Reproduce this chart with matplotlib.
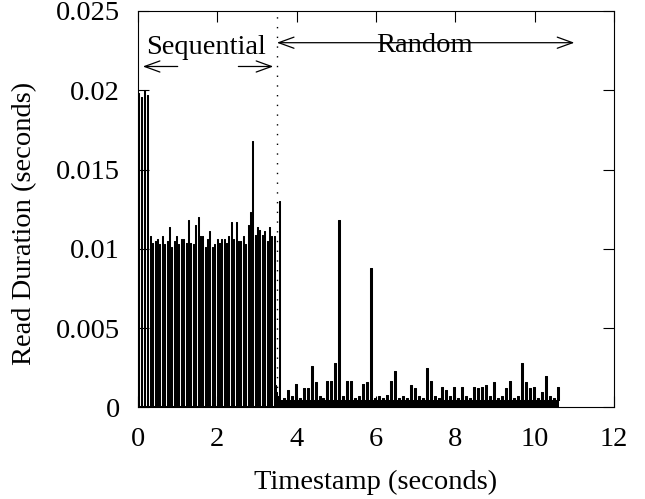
import matplotlib.pyplot as plt

plt.rcParams['font.family'] = ['Liberation Serif', 'DejaVu Serif']

# read durations in milliseconds, timestamps in seconds
# first burst + sequential phase: long reads and the short reads between them
seq_peak_t = [0.01, 0.08, 0.15, 0.22,
              0.30, 0.36, 0.42, 0.48, 0.54, 0.60, 0.66, 0.72, 0.78, 0.84,
              0.90, 0.96, 1.02, 1.08, 1.14, 1.20, 1.26, 1.32, 1.38, 1.44,
              1.50, 1.56, 1.62, 1.68, 1.74, 1.80, 1.86, 1.92, 1.98, 2.04,
              2.10, 2.16, 2.22, 2.28, 2.34, 2.40, 2.46, 2.52, 2.58, 2.64,
              2.70, 2.76, 2.82, 2.88, 2.94, 3.00, 3.06, 3.12, 3.18, 3.24,
              3.30, 3.36, 3.42]
seq_peak_ms = [19.8, 19.6, 20.0, 19.7,
               10.8, 10.4, 10.5, 10.6, 10.3, 10.8, 10.3, 10.5, 11.4, 10.1,
               10.5, 10.8, 10.3, 10.6, 10.6, 10.4, 11.8, 10.4, 10.3, 11.5,
               12.0, 10.8, 10.8, 10.1, 10.6, 11.1, 10.1, 10.3, 10.6, 10.4,
               10.6, 10.6, 10.4, 10.8, 11.7, 10.6, 11.7, 10.5, 10.5, 10.8,
               10.3, 11.5, 12.3, 16.8, 10.9, 11.4, 11.2, 10.9, 11.1, 10.5,
               11.4, 10.8, 10.8]
seq_low_t = [0.0, 0.035, 0.105, 0.175, 0.245,
             0.325, 0.385, 0.445, 0.505, 0.565, 0.625, 0.685, 0.745, 0.805,
             0.865, 0.925, 0.985, 1.045, 1.105, 1.165, 1.225, 1.285, 1.345,
             1.405, 1.465, 1.525, 1.585, 1.645, 1.705, 1.765, 1.825, 1.885,
             1.945, 2.005, 2.065, 2.125, 2.185, 2.245, 2.305, 2.365, 2.425,
             2.485, 2.545, 2.605, 2.665, 2.725, 2.785, 2.845, 2.905, 2.965,
             3.025, 3.085, 3.145, 3.205, 3.265, 3.325, 3.385, 3.445]
seq_low_ms = [0.1] * 57 + [1.4]

# switch from sequential to random reads
switch_t = [3.47, 3.50, 3.55, 3.58]
switch_ms = [1.0, 0.7, 13.0, 0.5]

# random phase
rand_t = [3.60, 3.65, 3.70, 3.75, 3.80, 3.85, 3.90, 3.95, 4.00, 4.05,
          4.10, 4.15, 4.20, 4.25, 4.30, 4.35, 4.40, 4.45, 4.50, 4.55,
          4.60, 4.65, 4.70, 4.75, 4.80, 4.85, 4.90, 4.95, 5.00, 5.05,
          5.10, 5.15, 5.20, 5.25, 5.30, 5.35, 5.40, 5.45, 5.50, 5.55,
          5.60, 5.65, 5.70, 5.75, 5.80, 5.85, 5.90, 5.95, 6.00, 6.05,
          6.10, 6.15, 6.20, 6.25, 6.30, 6.35, 6.40, 6.45, 6.50, 6.55,
          6.60, 6.65, 6.70, 6.75, 6.80, 6.85, 6.90, 6.95, 7.00, 7.05,
          7.10, 7.15, 7.20, 7.25, 7.30, 7.35, 7.40, 7.45, 7.50, 7.55,
          7.60, 7.65, 7.70, 7.75, 7.80, 7.85, 7.90, 7.95, 8.00, 8.05,
          8.10, 8.15, 8.20, 8.25, 8.30, 8.35, 8.40, 8.45, 8.50, 8.55,
          8.60, 8.65, 8.70, 8.75, 8.80, 8.85, 8.90, 8.95, 9.00, 9.05,
          9.10, 9.15, 9.20, 9.25, 9.30, 9.35, 9.40, 9.45, 9.50, 9.55,
          9.60, 9.65, 9.70, 9.75, 9.80, 9.85, 9.90, 9.95, 10.00, 10.05,
          10.10, 10.15, 10.20, 10.25, 10.30, 10.35, 10.40, 10.45, 10.50, 10.55,
          10.60]
rand_ms = [0.5, 0.6, 0.5, 1.1, 0.5, 0.7, 0.5, 1.5, 0.5, 0.6,
           0.5, 1.2, 0.5, 1.2, 0.5, 2.6, 0.5, 1.6, 0.5, 0.7,
           0.5, 0.6, 0.5, 1.7, 0.5, 1.7, 0.5, 2.8, 0.5, 11.8,
           0.5, 0.7, 0.5, 1.7, 0.5, 1.7, 0.5, 0.6, 0.5, 0.7,
           0.5, 1.5, 0.5, 1.6, 0.5, 8.8, 0.5, 0.6, 0.5, 0.7,
           0.5, 0.6, 0.5, 0.8, 0.5, 1.7, 0.5, 2.3, 0.5, 0.6,
           0.5, 0.7, 0.5, 0.6, 0.5, 1.4, 0.5, 1.2, 0.5, 0.7,
           0.5, 0.6, 0.5, 2.5, 0.5, 1.7, 0.5, 0.7, 0.5, 0.6,
           0.5, 1.3, 0.5, 1.1, 0.5, 0.7, 0.5, 1.3, 0.5, 0.6,
           0.5, 1.3, 0.5, 0.7, 0.5, 0.6, 0.5, 1.3, 0.5, 1.2,
           0.5, 1.3, 0.5, 1.4, 0.5, 0.7, 0.5, 1.6, 0.5, 0.6,
           0.5, 0.7, 0.5, 1.2, 0.5, 1.7, 0.5, 0.6, 0.5, 0.7,
           0.5, 2.8, 0.5, 1.6, 0.5, 1.2, 0.5, 1.3, 0.5, 0.6,
           0.5, 1.0, 0.5, 2.0, 0.5, 0.7, 0.5, 0.6, 0.5, 1.3,
           0.5]

phase_switch = 3.5
xticks = [0, 2, 4, 6, 8, 10, 12]
yticks = [0, 0.005, 0.01, 0.015, 0.02, 0.025]
ytick_labels = ['0', '0.005', '0.01', '0.015', '0.02', '0.025']

pts = sorted(zip(seq_peak_t + seq_low_t + switch_t + rand_t,
                 seq_peak_ms + seq_low_ms + switch_ms + rand_ms))
ts = [p[0] for p in pts]
dur = [p[1] / 1000.0 for p in pts]

fig = plt.figure(figsize=(6.45, 4.99), dpi=100)
ax = fig.add_axes([0.214, 0.1834, 0.738, 0.7946])

# the trace is so dense in the original that it prints as solid black
ax.fill_between(ts, dur, step='post', color='black', lw=0)
ax.plot(ts, dur, color='black', lw=0.75, drawstyle='steps-post')
ax.axvline(phase_switch, color='black', lw=1.0, ls=(0, (1, 6)))

ax.set_xlim(0, 12)
ax.set_ylim(0, 0.025)
ax.set_xticks(xticks)
ax.set_xticklabels([str(x) for x in xticks])
ax.set_yticks(yticks)
ax.set_yticklabels(ytick_labels)
ax.tick_params(direction='in', length=8, width=0.8, top=True, right=True,
               labelsize=20.5)
ax.tick_params(axis='x', pad=14)
ax.tick_params(axis='y', pad=13)
for s in ax.spines.values():
    s.set_linewidth(0.8)

ax.set_xlabel('Timestamp (seconds)', fontsize=20.5, labelpad=13)
ax.set_ylabel('Read Duration (seconds)', fontsize=20.5)
ax.yaxis.set_label_coords(-0.212, 0.463)

# phase annotations
arr = dict(arrowstyle='->,head_length=0.55,head_width=0.2', lw=0.9,
           color='black', shrinkA=0, shrinkB=0, mutation_scale=20)
ax.annotate('', xy=(0.12, 0.0215), xytext=(1.0, 0.0215), arrowprops=arr)
ax.annotate('', xy=(3.41, 0.0215), xytext=(2.53, 0.0215), arrowprops=arr)
ax.text(1.71, 0.0223, 'Sequential', fontsize=20.5, ha='center', va='baseline')

arr2 = dict(arr, arrowstyle='<->,head_length=0.55,head_width=0.2')
ax.annotate('', xy=(11.0, 0.0230), xytext=(3.5, 0.0230), arrowprops=arr2)
ax.text(7.23, 0.0224, 'Random', fontsize=20.5, ha='center', va='baseline')

fig.savefig('out.png', dpi=100)
